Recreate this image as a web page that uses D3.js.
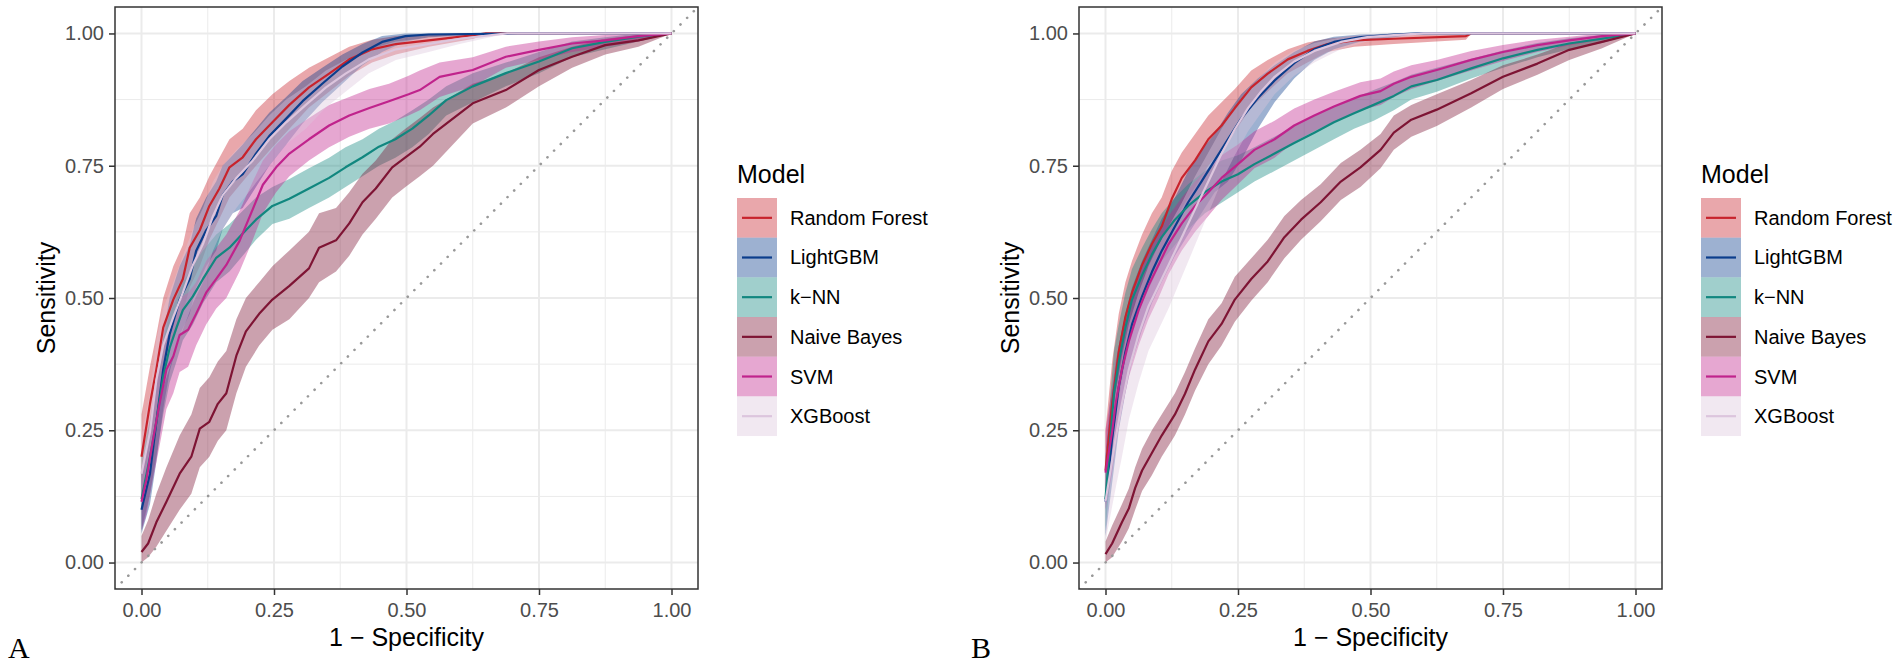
<!DOCTYPE html>
<html lang="en">
<head>
<meta charset="utf-8">
<title>ROC curves</title>
<script src="https://cdn.jsdelivr.net/npm/d3@7"></script>
<style>
  body { margin: 0; background: #fff; }
  svg text { font-family: "Liberation Sans", Arial, sans-serif; }
</style>
</head>
<body>
<script>
var models = ["Random Forest", "LightGBM", "k\u2212NN", "Naive Bayes", "SVM", "XGBoost"];
var lineColors = ["#c8232c", "#0b3d8c", "#11877f", "#7e1434", "#c0238c", "#dcc5dd"];
var tickValues = [0, 0.25, 0.5, 0.75, 1];
var tickLabels = ["0.00", "0.25", "0.50", "0.75", "1.00"];
var minorValues = [0.125, 0.375, 0.625, 0.875];

// rows: [1 - specificity, sensitivity, lower CI, upper CI]
// panel A
var rocA_rf = [[0,.20,.13,.28],[.016,.30,.22,.37],[.028,.365,.28,.43],[.041,.444,.36,.50],[.06,.497,.42,.56],
  [.078,.536,.47,.60],[.091,.595,.52,.66],[.11,.628,.56,.69],[.128,.674,.61,.73],[.147,.707,.65,.765],
  [.166,.747,.69,.80],[.191,.766,.72,.82],[.216,.80,.75,.855],[.247,.832,.785,.885],[.279,.865,.82,.91],
  [.316,.898,.86,.935],[.354,.924,.89,.955],[.392,.951,.92,.975],[.435,.97,.945,.988],[.48,.98,.96,.995],
  [.542,.987,.975,.998],[.627,.997,.99,1],[.65,1,1,1],[1,1,1,1]];
var rocA_lgbm = [[0,.10,.055,.17],[.016,.168,.11,.24],[.028,.266,.19,.34],[.041,.365,.29,.43],[.053,.431,.36,.50],
  [.072,.497,.43,.56],[.091,.536,.47,.60],[.103,.589,.52,.65],[.122,.628,.56,.69],[.141,.655,.59,.72],
  [.153,.694,.63,.75],[.172,.72,.66,.77],[.191,.734,.67,.79],[.216,.773,.71,.82],[.241,.806,.75,.85],
  [.273,.839,.79,.88],[.304,.872,.83,.91],[.341,.905,.87,.935],[.379,.9375,.905,.96],[.417,.964,.94,.98],
  [.454,.984,.965,.995],[.498,.995,.985,1],[.542,.998,.993,1],[.71,1,1,1],[1,1,1,1]];
var rocA_knn = [[0,.12,.06,.20],[.016,.20,.13,.27],[.028,.266,.20,.33],[.041,.352,.28,.42],[.053,.405,.34,.47],
  [.066,.444,.38,.50],[.078,.477,.42,.53],[.097,.503,.45,.56],[.116,.536,.49,.59],[.141,.576,.53,.62],
  [.166,.595,.55,.64],[.191,.622,.58,.665],[.216,.648,.61,.69],[.247,.674,.64,.71],[.279,.6875,.65,.725],
  [.316,.707,.67,.745],[.354,.727,.69,.765],[.385,.747,.71,.785],[.417,.766,.73,.80],[.448,.786,.75,.82],
  [.479,.80,.765,.835],[.511,.82,.785,.855],[.542,.845,.81,.875],[.575,.874,.845,.90],[.625,.90,.87,.925],
  [.6875,.925,.90,.945],[.75,.947,.925,.965],[.8125,.972,.955,.985],[.875,.984,.97,.993],[.9375,.994,.985,1],[1,1,1,1]];
var rocA_nb = [[0,.02,0,.05],[.0125,.036,.01,.08],[.028,.076,.03,.13],[.047,.115,.06,.18],[.072,.168,.10,.24],
  [.094,.20,.13,.28],[.11,.253,.18,.33],[.128,.266,.20,.35],[.144,.30,.23,.38],[.16,.32,.25,.40],
  [.179,.391,.32,.46],[.197,.437,.37,.50],[.222,.47,.41,.53],[.247,.497,.44,.56],[.279,.523,.46,.59],
  [.316,.556,.50,.625],[.335,.595,.53,.66],[.367,.609,.55,.67],[.392,.641,.58,.70],[.417,.681,.62,.735],
  [.442,.707,.65,.76],[.473,.747,.69,.80],[.498,.766,.71,.82],[.525,.786,.73,.84],[.55,.81,.75,.86],
  [.625,.868,.83,.905],[.6875,.893,.86,.925],[.75,.931,.90,.955],[.8125,.956,.935,.975],[.875,.978,.96,.99],
  [.9375,.987,.975,.997],[1,1,1,1]];
var rocA_svm = [[0,.115,.06,.18],[.009,.155,.09,.22],[.022,.234,.16,.31],[.034,.30,.22,.37],[.047,.365,.29,.43],
  [.06,.39,.32,.46],[.072,.43,.36,.50],[.088,.44,.37,.51],[.103,.47,.41,.53],[.122,.51,.45,.57],
  [.141,.536,.48,.595],[.16,.5625,.50,.62],[.185,.608,.55,.665],[.21,.668,.61,.72],[.229,.714,.66,.76],
  [.254,.747,.70,.79],[.279,.773,.73,.815],[.316,.80,.76,.84],[.354,.826,.785,.865],[.392,.845,.805,.88],
  [.43,.859,.82,.895],[.467,.872,.83,.905],[.504,.885,.845,.92],[.525,.893,.855,.93],[.5625,.918,.88,.945],
  [.625,.931,.90,.955],[.6875,.956,.935,.975],[.75,.969,.95,.985],[.8125,.981,.965,.993],[.875,.987,.975,.997],
  [.9375,.995,.985,1],[1,1,1,1]];
var rocA_xgb = [[0,.168,.10,.24],[.016,.247,.17,.32],[.028,.345,.27,.42],[.041,.411,.33,.48],[.06,.464,.39,.53],
  [.078,.51,.44,.58],[.097,.5625,.49,.63],[.116,.602,.53,.67],[.135,.655,.59,.72],[.153,.694,.63,.75],
  [.179,.727,.67,.78],[.21,.76,.71,.81],[.241,.80,.75,.845],[.273,.832,.79,.875],[.31,.865,.82,.90],
  [.348,.898,.86,.93],[.385,.924,.89,.95],[.429,.951,.925,.97],[.48,.97,.95,.985],[.542,.98,.965,.992],
  [.6,.99,.98,.998],[.69,1,1,1],[1,1,1,1]];

// panel B
var rocB_rf = [[0,.174,.11,.25],[.0125,.30,.22,.38],[.025,.398,.32,.47],[.0375,.464,.39,.53],[.05,.51,.44,.57],
  [.069,.5625,.50,.62],[.0875,.602,.54,.66],[.106,.635,.58,.69],[.125,.687,.63,.74],[.144,.727,.67,.775],
  [.169,.76,.71,.81],[.194,.80,.75,.845],[.219,.826,.78,.87],[.244,.859,.815,.895],[.275,.898,.86,.93],
  [.306,.924,.89,.95],[.344,.951,.925,.97],[.381,.967,.945,.983],[.419,.98,.965,.99],[.469,.987,.975,.995],
  [.544,.99,.98,.997],[.68,.995,.988,1],[.69,1,1,1],[1,1,1,1]];
var rocB_lgbm = [[0,.115,.05,.20],[.0125,.234,.15,.32],[.025,.332,.25,.41],[.0375,.398,.32,.47],[.05,.45,.38,.52],
  [.069,.503,.44,.57],[.0875,.549,.49,.61],[.106,.589,.53,.65],[.131,.635,.58,.69],[.156,.681,.62,.74],
  [.181,.72,.66,.78],[.206,.76,.70,.81],[.231,.80,.72,.85],[.256,.839,.76,.885],[.2875,.878,.82,.915],
  [.319,.911,.87,.94],[.356,.944,.915,.965],[.394,.97,.95,.985],[.431,.984,.97,.994],[.481,.993,.985,.998],
  [.544,.998,.993,1],[.59,1,1,1],[1,1,1,1]];
var rocB_knn = [[0,.12,.06,.20],[.008,.22,.15,.30],[.016,.32,.25,.40],[.025,.378,.31,.45],[.0375,.444,.38,.51],
  [.05,.497,.44,.555],[.069,.543,.49,.595],[.0875,.582,.53,.63],[.106,.615,.57,.66],[.131,.648,.60,.69],
  [.156,.674,.63,.715],[.1875,.70,.66,.74],[.219,.72,.68,.76],[.25,.734,.70,.77],[.281,.753,.72,.785],
  [.319,.773,.74,.805],[.356,.793,.76,.825],[.394,.8125,.78,.845],[.431,.832,.80,.862],[.469,.849,.82,.878],
  [.506,.865,.835,.893],[.544,.882,.855,.908],[.577,.90,.875,.922],[.625,.912,.89,.935],[.69,.934,.915,.952],
  [.75,.953,.935,.968],[.815,.969,.955,.982],[.875,.981,.97,.991],[.937,.99,.982,.997],[1,1,1,1]];
var rocB_nb = [[0,.016,0,.04],[.0125,.036,.01,.07],[.031,.076,.04,.11],[.044,.102,.065,.14],[.056,.141,.10,.18],
  [.069,.174,.135,.215],[.0875,.207,.165,.25],[.106,.24,.20,.28],[.131,.28,.24,.32],[.15,.319,.28,.36],
  [.169,.365,.325,.405],[.194,.418,.375,.46],[.219,.451,.41,.49],[.244,.497,.455,.54],[.275,.536,.495,.575],
  [.306,.569,.53,.61],[.3375,.615,.575,.655],[.369,.648,.61,.685],[.406,.681,.645,.715],[.444,.72,.685,.755],
  [.481,.747,.71,.78],[.519,.78,.745,.81],[.544,.8125,.78,.845],[.577,.837,.805,.865],[.625,.856,.825,.885],
  [.69,.887,.86,.912],[.75,.918,.895,.94],[.815,.943,.922,.96],[.875,.969,.95,.982],[.937,.984,.972,.993],[1,1,1,1]];
var rocB_svm = [[0,.17,.10,.25],[.0125,.247,.17,.33],[.019,.30,.22,.38],[.031,.365,.29,.44],[.044,.418,.35,.49],
  [.0625,.477,.41,.54],[.081,.523,.46,.585],[.1,.5625,.50,.62],[.119,.602,.545,.655],[.144,.641,.59,.69],
  [.169,.674,.625,.72],[.194,.70,.655,.745],[.219,.727,.685,.77],[.25,.753,.715,.79],[.281,.78,.745,.815],
  [.319,.80,.765,.835],[.356,.826,.795,.858],[.394,.845,.815,.875],[.431,.862,.833,.89],[.481,.882,.855,.908],
  [.519,.891,.865,.915],[.544,.905,.88,.928],[.577,.918,.895,.94],[.625,.931,.91,.95],[.69,.95,.93,.967],
  [.75,.965,.948,.978],[.815,.978,.965,.988],[.875,.987,.977,.994],[.937,.995,.988,1],[1,1,1,1]];
var rocB_xgb = [[0,.115,.04,.20],[.019,.234,.14,.32],[.031,.30,.20,.39],[.044,.365,.27,.45],[.0625,.431,.34,.51],
  [.081,.484,.40,.56],[.1,.523,.44,.60],[.119,.5625,.48,.635],[.144,.615,.54,.68],[.169,.668,.60,.73],
  [.194,.72,.66,.775],[.219,.773,.72,.82],[.244,.819,.77,.86],[.269,.859,.815,.895],[.294,.891,.85,.92],
  [.319,.918,.885,.945],[.356,.947,.92,.968],[.394,.967,.945,.982],[.444,.984,.97,.993],[.494,.993,.985,.998],
  [.544,.997,.99,1],[.6,1,1,1],[1,1,1,1]];

var panelA = [rocA_rf, rocA_lgbm, rocA_knn, rocA_nb, rocA_svm, rocA_xgb];
var panelB = [rocB_rf, rocB_lgbm, rocB_knn, rocB_nb, rocB_svm, rocB_xgb];

var svg = d3.select("body").append("svg")
    .attr("width", 1902)
    .attr("height", 664);

var pw = 583, ph = 582, pTop = 7;

function drawPanel(curves, left, tag, tagX) {
    var x = d3.scaleLinear().domain([-0.05, 1.05]).range([left, left + pw]);
    var y = d3.scaleLinear().domain([-0.05, 1.05]).range([pTop + ph, pTop]);
    var g = svg.append("g");

    g.append("clipPath").attr("id", "clip" + tag)
        .append("rect").attr("x", left).attr("y", pTop).attr("width", pw).attr("height", ph);

    // grid, minor first
    [[minorValues, 1], [tickValues, 2]].forEach(function(gr) {
        g.append("g").selectAll("line").data(gr[0]).enter().append("line")
            .attr("x1", function(d) { return x(d); }).attr("x2", function(d) { return x(d); })
            .attr("y1", pTop).attr("y2", pTop + ph)
            .attr("stroke", "#ebebeb").attr("stroke-width", gr[1]);
        g.append("g").selectAll("line").data(gr[0]).enter().append("line")
            .attr("y1", function(d) { return y(d); }).attr("y2", function(d) { return y(d); })
            .attr("x1", left).attr("x2", left + pw)
            .attr("stroke", "#ebebeb").attr("stroke-width", gr[1]);
    });

    var plot = g.append("g").attr("clip-path", "url(#clip" + tag + ")");

    var area = d3.area()
        .x(function(d) { return x(d[0]); })
        .y0(function(d) { return y(d[2]); })
        .y1(function(d) { return y(d[3]); });
    var line = d3.line()
        .x(function(d) { return x(d[0]); })
        .y(function(d) { return y(d[1]); });

    plot.append("g").selectAll("path").data(curves).enter().append("path")
        .attr("d", area)
        .attr("fill", function(d, i) { return lineColors[i]; })
        .attr("fill-opacity", 0.4);

    plot.append("g").selectAll("path").data(curves).enter().append("path")
        .attr("d", line)
        .attr("fill", "none")
        .attr("stroke", function(d, i) { return lineColors[i]; })
        .attr("stroke-width", 2.2)
        .attr("stroke-linejoin", "round");

    // reference diagonal
    plot.append("line")
        .attr("x1", x(-0.05)).attr("y1", y(-0.05))
        .attr("x2", x(1.05)).attr("y2", y(1.05))
        .attr("stroke", "#999").attr("stroke-width", 2.6)
        .attr("stroke-linecap", "round")
        .attr("stroke-dasharray", "0.1,9.3");

    g.append("rect")
        .attr("x", left).attr("y", pTop).attr("width", pw).attr("height", ph)
        .attr("fill", "none").attr("stroke", "#333").attr("stroke-width", 1.5);

    var xAxis = d3.axisBottom(x).tickValues(tickValues)
        .tickFormat(function(d, i) { return tickLabels[i]; })
        .tickSize(6).tickPadding(8);
    var yAxis = d3.axisLeft(y).tickValues(tickValues)
        .tickFormat(function(d, i) { return tickLabels[i]; })
        .tickSize(6).tickPadding(5);

    [g.append("g").attr("transform", "translate(0," + (pTop + ph) + ")").call(xAxis),
     g.append("g").attr("transform", "translate(" + left + ",0)").call(yAxis)].forEach(function(ax) {
        ax.select(".domain").remove();
        ax.selectAll(".tick line").attr("stroke", "#333").attr("stroke-width", 1.5);
        ax.selectAll(".tick text").attr("fill", "#4d4d4d").attr("font-size", 20);
    });

    g.append("text")
        .attr("x", left + pw / 2).attr("y", 646)
        .attr("text-anchor", "middle").attr("font-size", 25)
        .text("1 \u2212 Specificity");
    g.append("text")
        .attr("transform", "translate(" + (left - 60) + "," + (pTop + ph / 2) + ") rotate(-90)")
        .attr("text-anchor", "middle").attr("font-size", 25)
        .text("Sensitivity");

    // legend
    var lx = left + pw + 39, ly = 198, kh = 39.67;
    var lg = g.append("g");
    lg.append("text").attr("x", lx).attr("y", 183).attr("font-size", 25).text("Model");
    var rows = lg.selectAll("g.key").data(models).enter().append("g")
        .attr("transform", function(d, i) { return "translate(" + lx + "," + (ly + i * kh) + ")"; });
    rows.append("rect").attr("width", 40).attr("height", kh)
        .attr("fill", function(d, i) { return lineColors[i]; }).attr("fill-opacity", 0.4);
    rows.append("line").attr("x1", 5).attr("x2", 35).attr("y1", kh / 2).attr("y2", kh / 2)
        .attr("stroke", function(d, i) { return lineColors[i]; }).attr("stroke-width", 2.2);
    rows.append("text").attr("x", 53).attr("y", kh / 2 + 7).attr("font-size", 20)
        .text(function(d) { return d; });

    svg.append("text")
        .attr("x", tagX).attr("y", 658)
        .style("font-family", "'Liberation Serif', 'Times New Roman', serif")
        .attr("font-size", 30)
        .text(tag);
}

drawPanel(panelA, 115, "A", 8);
drawPanel(panelB, 1079, "B", 971);
</script>
</body>
</html>
